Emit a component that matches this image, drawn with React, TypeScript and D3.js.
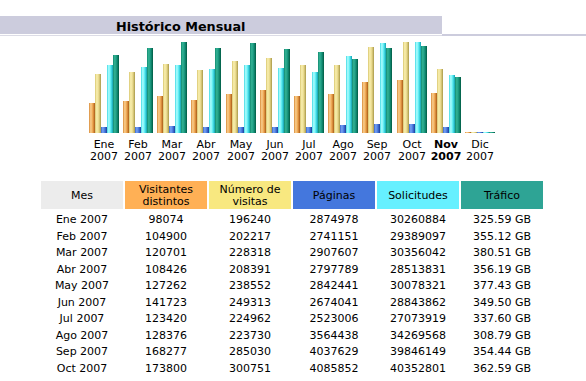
import React from "react";
import * as d3 from "d3";

const months = ["Ene", "Feb", "Mar", "Abr", "May", "Jun", "Jul", "Ago", "Sep", "Oct", "Nov", "Dic"];
const year = "2007";
const currentMonth = "Nov";
const visitors = [98074, 104900, 120701, 108426, 127262, 141723, 123420, 128376, 168277, 173800, 132000, 0];
const visits = [196240, 202217, 228318, 208391, 238552, 249313, 224962, 223730, 285030, 300751, 210500, 0];
const pages = [2874978, 2741151, 2907607, 2797789, 2842441, 2674041, 2523006, 3564438, 4037629, 4085852, 2660000, 0];
const hits = [30260884, 29389097, 30356042, 28513831, 30078321, 28843862, 27073919, 34269568, 39846149, 40352801, 25600000, 0];
const trafficGB = [325.59, 355.12, 380.51, 356.19, 377.43, 349.5, 337.6, 308.79, 354.44, 362.59, 233, 0];
const headers = [["Mes"], ["Visitantes", "distintos"], ["Número de", "visitas"], ["Páginas"], ["Solicitudes"], ["Tráfico"]];
const visibleRows = 10;

const FONT = "'DejaVu Sans', Verdana, sans-serif";

const headerFill = ["#ECECEC", "#FFB055", "#F8E880", "#4477DD", "#66F0FF", "#2EA495"];
const barGrad = [
  { id: "gVis", c: ["#D88A38", "#FAD090", "#EBA04A", "#A85A18"] },
  { id: "gVst", c: ["#D8C670", "#FAF0B0", "#E6D688", "#A89848"] },
  { id: "gPag", c: ["#3A66CC", "#78A4F4", "#4474DA", "#1C3C98"] },
  { id: "gHit", c: ["#40D8E4", "#B0FFFF", "#50E8F0", "#12A0B0"] },
  { id: "gBw", c: ["#128A70", "#34B496", "#149078", "#005A42"] },
];

export default function App() {
  const baseY = 133;
  const maxH = 91;
  const x0 = 88.7;
  const pitch = 34.2;
  const bw = 6;

  const sVisits = d3.scaleLinear().domain([0, d3.max(visits)!]).range([0, maxH]);
  const sHits = d3.scaleLinear().domain([0, d3.max(hits)!]).range([0, maxH]);
  const sBw = d3.scaleLinear().domain([0, d3.max(trafficGB)!]).range([0, maxH]);
  const h = (v: number) => Math.max(1, Math.round(v));

  const xGroup = d3.scaleLinear().domain([0, 1]).range([x0, x0 + pitch]);

  const series = [
    { vals: visitors, s: sVisits },
    { vals: visits, s: sVisits },
    { vals: pages, s: sHits },
    { vals: hits, s: sHits },
    { vals: trafficGB, s: sBw },
  ];

  const colX = (i: number) => 41 + 84 * i;
  const colW = 82;
  const rowY = d3.scaleLinear().domain([0, 1]).range([223, 239.56]);

  const fmt = d3.format("d");
  const rows = months.slice(0, visibleRows).map((m, i) => [
    `${m} ${year}`,
    fmt(visitors[i]),
    fmt(visits[i]),
    fmt(pages[i]),
    fmt(hits[i]),
    `${trafficGB[i].toFixed(2)} GB`,
  ]);

  return (
    <div style={{ position: "absolute", left: 0, top: 0 }}>
      <svg width={586} height={381} style={{ display: "block", background: "#fff" }} fontFamily={FONT}>
        <defs>
          {barGrad.map((g) => (
            <linearGradient key={g.id} id={g.id} x1="0" x2="1" y1="0" y2="0">
              <stop offset="0" stopColor={g.c[0]} />
              <stop offset="0.3" stopColor={g.c[1]} />
              <stop offset="0.65" stopColor={g.c[2]} />
              <stop offset="1" stopColor={g.c[3]} />
            </linearGradient>
          ))}
        </defs>
        {/* Title bar */}
        <rect x={0} y={16} width={442} height={18} fill="#CCCCDD" />
        <rect x={442} y={34} width={144} height={2} fill="#CCCCDD" />
        <rect x={0} y={35} width={442} height={1} fill="#DCDCE6" />
        <text x={116} y={30.5} fontSize={12.8} fontWeight="bold" fill="#000">
          Histórico Mensual
        </text>

        {/* Bars */}
        {months.map((m, i) => {
          const gx = Math.round(xGroup(i));
          return (
            <g key={m}>
              {series.map((se, k) => {
                const hh = h(se.s(se.vals[i]));
                return (
                  <rect key={k} x={gx + k * bw} y={baseY - hh} width={bw} height={hh} fill={`url(#${barGrad[k].id})`} />
                );
              })}
              <text
                x={gx + 15}
                y={147.5}
                textAnchor="middle"
                fontSize={11}
                fontWeight={m === currentMonth ? "bold" : "normal"}
                fill="#000"
              >
                {m}
              </text>
              <text
                x={gx + 15}
                y={159.5}
                textAnchor="middle"
                fontSize={11}
                fontWeight={m === currentMonth ? "bold" : "normal"}
                fill="#000"
              >
                {year}
              </text>
            </g>
          );
        })}

        {/* Table header */}
        {headers.map((lines, i) => (
          <g key={i}>
            <rect x={colX(i)} y={181} width={colW} height={28} fill={headerFill[i]} />
            {lines.map((ln, j) => (
              <text
                key={j}
                x={colX(i) + colW / 2}
                y={lines.length === 1 ? 199 : 192.5 + j * 12.5}
                textAnchor="middle"
                fontSize={11}
                fill="#000"
              >
                {ln}
              </text>
            ))}
          </g>
        ))}

        {/* Table rows */}
        {rows.map((r, ri) => (
          <g key={ri}>
            {r.map((cell, ci) => (
              <text key={ci} x={colX(ci) + colW / 2} y={rowY(ri)} textAnchor="middle" fontSize={11} fill="#000">
                {cell}
              </text>
            ))}
          </g>
        ))}
      </svg>
    </div>
  );
}
